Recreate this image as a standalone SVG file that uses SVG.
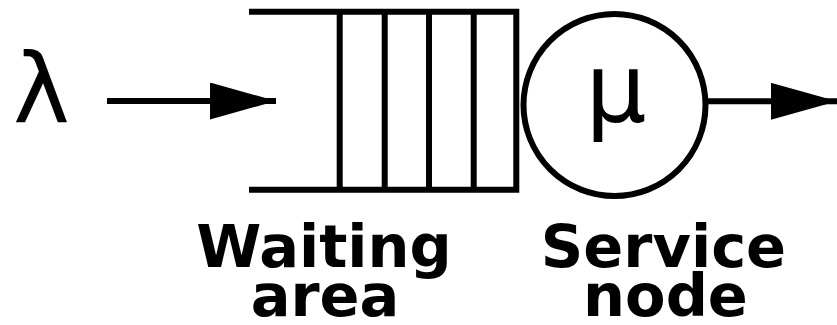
<svg xmlns="http://www.w3.org/2000/svg" width="837" height="325" viewBox="0 0 837 325">
<style>
.ln{stroke:#000;stroke-width:6;fill:none}
.sym{font-family:"DejaVu Sans",sans-serif;font-size:96px;fill:#000;text-anchor:middle}
.lbl{font-family:"DejaVu Sans",sans-serif;font-weight:bold;font-size:59px;fill:#000;text-anchor:middle}
</style>
<defs>
<marker id="ah" markerUnits="userSpaceOnUse" markerWidth="70" markerHeight="40" refX="66" refY="18.5" orient="auto" viewBox="0 0 70 40">
<path d="M0,0 L66,18.5 L0,37 Z" fill="#000"/>
</marker>
</defs>
<rect width="837" height="325" fill="#fff"/>
<g id="arrival">
<text class="sym" x="41.5" y="122">λ</text>
</g>
<g id="waiting-area">
<path class="ln" d="M249,11.7 H519.3 M249,189.7 H519.3 M339.7,11.7 V189.7 M384.7,11.7 V189.7 M429,11.7 V189.7 M473.7,11.7 V189.7 M516.3,11.7 V189.7"/>
<text class="lbl" x="324" y="267">Waiting</text>
<text class="lbl" x="325" y="316">area</text>
</g>
<g id="service-node">
<circle class="ln" cx="614.5" cy="105" r="91"/>
<text class="sym" x="616" y="122">μ</text>
<text class="lbl" x="663.5" y="267">Service</text>
<text class="lbl" x="665.5" y="316">node</text>
</g>
<g id="connectors">
<line class="ln" x1="107" y1="101" x2="276" y2="101" marker-end="url(#ah)"/>
<line class="ln" x1="705.5" y1="101.3" x2="837" y2="101.3" marker-end="url(#ah)"/>
</g>
</svg>
